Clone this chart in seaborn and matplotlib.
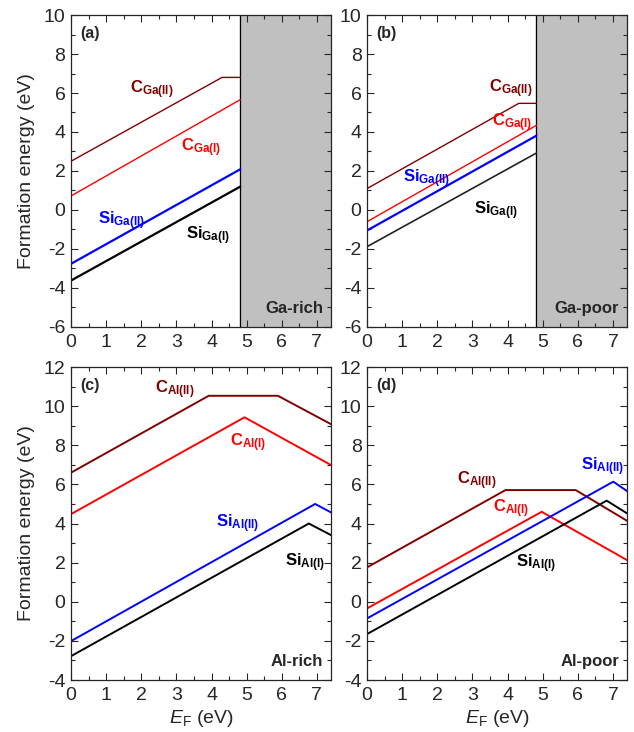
import numpy as np
import pandas as pd
import matplotlib
matplotlib.use("Agg")
import matplotlib.pyplot as plt
import seaborn as sns
from matplotlib.ticker import MultipleLocator

sns.set_style("ticks")
plt.rcParams["font.family"] = ["Liberation Sans", "DejaVu Sans"]
plt.rcParams["mathtext.fontset"] = "custom"
plt.rcParams["mathtext.rm"] = "Liberation Sans"
plt.rcParams["mathtext.it"] = "Liberation Sans:italic"
plt.rcParams["mathtext.bf"] = "Liberation Sans:bold"
plt.rcParams["axes.unicode_minus"] = False

# ----------------------------------------------------------------
# data (Fermi level EF in eV, formation energy in eV)
# ----------------------------------------------------------------
# (a) Ga-rich
ef_a_cga2 = [0, 4.3, 4.82]
e_a_cga2 = [2.5, 6.8, 6.8]
ef_a_cga1 = [0, 4.82]
e_a_cga1 = [0.72, 5.66]
ef_a_siga2 = [0, 4.82]
e_a_siga2 = [-2.76, 2.09]
ef_a_siga1 = [0, 4.82]
e_a_siga1 = [-3.62, 1.2]

# (b) Ga-poor
ef_b_cga2 = [0, 4.32, 4.82]
e_b_cga2 = [1.1, 5.47, 5.47]
ef_b_cga1 = [0, 4.82]
e_b_cga1 = [-0.6, 4.34]
ef_b_siga2 = [0, 4.82]
e_b_siga2 = [-1.05, 3.81]
ef_b_siga1 = [0, 4.82]
e_b_siga1 = [-1.88, 2.92]

# (c) Al-rich
ef_c_cal2 = [0, 3.92, 5.89, 7.4]
e_c_cal2 = [6.6, 10.53, 10.53, 9.08]
ef_c_cal1 = [0, 4.94, 7.4]
e_c_cal1 = [4.48, 9.43, 6.99]
ef_c_sial2 = [0, 6.95, 7.4]
e_c_sial2 = [-2.01, 5.0, 4.57]
ef_c_sial1 = [0, 6.77, 7.4]
e_c_sial1 = [-2.78, 4.0, 3.41]

# (d) Al-poor
ef_d_cal2 = [0, 3.94, 5.94, 7.4]
e_d_cal2 = [1.76, 5.71, 5.71, 4.14]
ef_d_cal1 = [0, 4.97, 7.4]
e_d_cal1 = [-0.34, 4.6, 2.13]
ef_d_sial2 = [0, 7.01, 7.4]
e_d_sial2 = [-0.85, 6.14, 5.66]
ef_d_sial1 = [0, 6.82, 7.4]
e_d_sial1 = [-1.65, 5.17, 4.52]

gap_edge = 4.82   # start of the shaded region in (a) and (b)

DARKRED = "#800000"
RED = "#ff0000"
BLUE = "#0000ff"
BLACK = "#000000"

fig = plt.figure(figsize=(6.34, 7.32), dpi=100)
ax_a = fig.add_axes([0.112, 0.5533, 0.410, 0.4262])
ax_b = fig.add_axes([0.579, 0.5533, 0.410, 0.4262])
ax_c = fig.add_axes([0.112, 0.0710, 0.410, 0.4276])
ax_d = fig.add_axes([0.579, 0.0710, 0.410, 0.4276])


def draw(ax, ef, e, color, lw):
    df = pd.DataFrame({"EF": ef, "E": e})
    sns.lineplot(data=df, x="EF", y="E", ax=ax, color=color, lw=lw,
                 estimator=None, sort=False)


def label(ax, x, y, main, sub, color):
    ax.text(x, y, r"$\mathbf{%s}_{\mathbf{%s}}$" % (main, sub), color=color,
            fontsize=12, ha="center", va="center")


def style(ax, ylim):
    ax.set_xlim(0, 7.4)
    ax.set_ylim(*ylim)
    ax.xaxis.set_major_locator(MultipleLocator(1))
    ax.xaxis.set_minor_locator(MultipleLocator(0.5))
    ax.yaxis.set_major_locator(MultipleLocator(2))
    ax.yaxis.set_minor_locator(MultipleLocator(1))
    ax.tick_params(which="both", direction="in", top=True, right=True,
                   labelsize=14, width=0.8)
    ax.tick_params(axis="x", which="major", pad=5)
    ax.tick_params(axis="y", which="major", pad=4)
    ax.tick_params(which="major", length=5)
    ax.tick_params(which="minor", length=3)
    for s in ax.spines.values():
        s.set_linewidth(0.9)
    ax.set_xlabel("")
    ax.set_ylabel("")


# ---- (a) Ga-rich
ax = ax_a
ax.axvspan(gap_edge, 7.4, color="#c0c0c0", zorder=0)
ax.axvline(gap_edge, color="black", lw=0.9)
draw(ax, ef_a_cga2, e_a_cga2, DARKRED, 1.0)
draw(ax, ef_a_cga1, e_a_cga1, RED, 1.0)
draw(ax, ef_a_siga2, e_a_siga2, BLUE, 1.6)
draw(ax, ef_a_siga1, e_a_siga1, BLACK, 1.6)
label(ax, 2.29, 6.15, "C", "Ga(II)", DARKRED)
label(ax, 3.71, 3.2, "C", "Ga(I)", RED)
label(ax, 1.44, -0.55, "Si", "Ga(II)", BLUE)
label(ax, 3.9, -1.3, "Si", "Ga(I)", BLACK)
ax.text(0.035, 0.965, "(a)", transform=ax.transAxes, fontsize=11.5,
        fontweight="bold", va="top", ha="left")
ax.text(0.97, 0.035, "Ga-rich", transform=ax.transAxes, fontsize=12,
        fontweight="bold", va="bottom", ha="right")
style(ax, (-6, 10))
ax.set_ylabel("Formation energy (eV)", fontsize=14, labelpad=6)

# ---- (b) Ga-poor
ax = ax_b
ax.axvspan(gap_edge, 7.4, color="#c0c0c0", zorder=0)
ax.axvline(gap_edge, color="black", lw=0.9)
draw(ax, ef_b_cga2, e_b_cga2, DARKRED, 1.0)
draw(ax, ef_b_cga1, e_b_cga1, RED, 1.0)
draw(ax, ef_b_siga2, e_b_siga2, BLUE, 1.6)
draw(ax, ef_b_siga1, e_b_siga1, "#222222", 1.2)
label(ax, 4.09, 6.2, "C", "Ga(II)", DARKRED)
label(ax, 4.13, 4.5, "C", "Ga(I)", RED)
label(ax, 1.7, 1.6, "Si", "Ga(II)", BLUE)
label(ax, 3.66, -0.03, "Si", "Ga(I)", BLACK)
ax.text(0.035, 0.965, "(b)", transform=ax.transAxes, fontsize=11.5,
        fontweight="bold", va="top", ha="left")
ax.text(0.97, 0.035, "Ga-poor", transform=ax.transAxes, fontsize=12,
        fontweight="bold", va="bottom", ha="right")
style(ax, (-6, 10))

# ---- (c) Al-rich
ax = ax_c
draw(ax, ef_c_cal2, e_c_cal2, DARKRED, 1.4)
draw(ax, ef_c_cal1, e_c_cal1, RED, 1.4)
draw(ax, ef_c_sial2, e_c_sial2, BLUE, 1.4)
draw(ax, ef_c_sial1, e_c_sial1, BLACK, 1.4)
label(ax, 2.95, 10.85, "C", "Al(II)", DARKRED)
label(ax, 5.04, 8.15, "C", "Al(I)", RED)
label(ax, 4.75, 3.97, "Si", "Al(II)", BLUE)
label(ax, 6.65, 2.0, "Si", "Al(I)", BLACK)
ax.text(0.035, 0.965, "(c)", transform=ax.transAxes, fontsize=11.5,
        fontweight="bold", va="top", ha="left")
ax.text(0.97, 0.035, "Al-rich", transform=ax.transAxes, fontsize=12,
        fontweight="bold", va="bottom", ha="right")
style(ax, (-4, 12))
ax.set_ylabel("Formation energy (eV)", fontsize=14, labelpad=6)
ax.set_xlabel(r"$E_\mathrm{F}$ (eV)", fontsize=14, labelpad=3)

# ---- (d) Al-poor
ax = ax_d
draw(ax, ef_d_cal2, e_d_cal2, DARKRED, 1.4)
draw(ax, ef_d_cal1, e_d_cal1, RED, 1.4)
draw(ax, ef_d_sial2, e_d_sial2, BLUE, 1.4)
draw(ax, ef_d_sial1, e_d_sial1, BLACK, 1.4)
label(ax, 3.13, 6.18, "C", "Al(II)", DARKRED)
label(ax, 4.09, 4.75, "C", "Al(I)", RED)
label(ax, 6.7, 6.9, "Si", "Al(II)", BLUE)
label(ax, 4.8, 1.93, "Si", "Al(I)", BLACK)
ax.text(0.035, 0.965, "(d)", transform=ax.transAxes, fontsize=11.5,
        fontweight="bold", va="top", ha="left")
ax.text(0.97, 0.035, "Al-poor", transform=ax.transAxes, fontsize=12,
        fontweight="bold", va="bottom", ha="right")
style(ax, (-4, 12))
ax.set_xlabel(r"$E_\mathrm{F}$ (eV)", fontsize=14, labelpad=3)

fig.savefig("out.png", dpi=100)
